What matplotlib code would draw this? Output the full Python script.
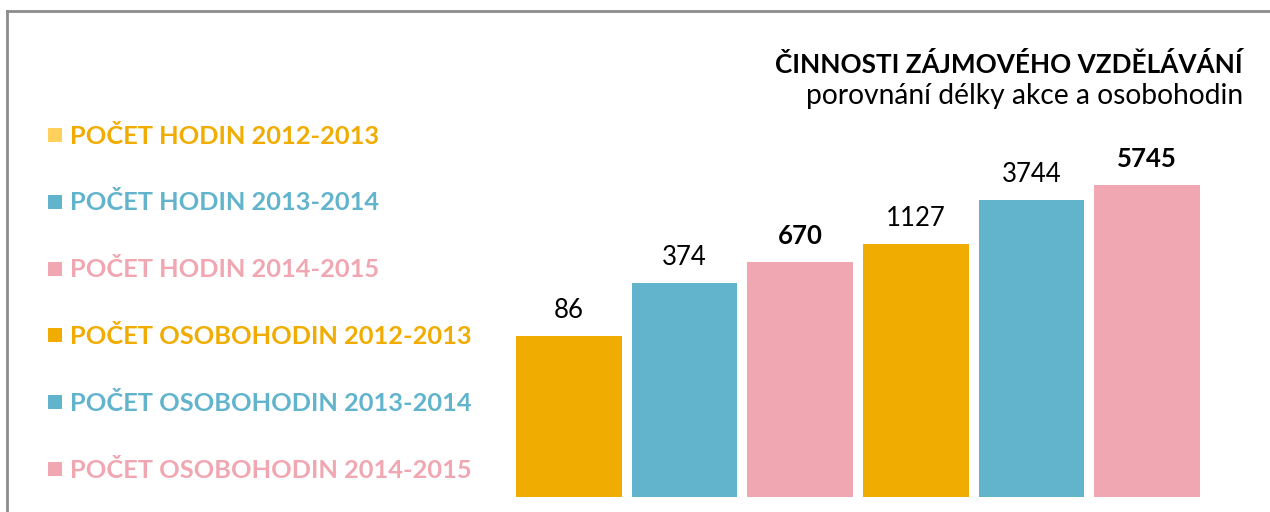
import matplotlib
matplotlib.use("Agg")
import matplotlib.pyplot as plt
from matplotlib.patches import Rectangle
from matplotlib.lines import Line2D

categories = ["POČET HODIN 2012-2013", "POČET HODIN 2013-2014", "POČET HODIN 2014-2015",
              "POČET OSOBOHODIN 2012-2013", "POČET OSOBOHODIN 2013-2014", "POČET OSOBOHODIN 2014-2015"]
values = [86, 374, 670, 1127, 3744, 5745]
bold_labels = [False, False, True, False, False, True]
bar_colors = ["#F0AC00", "#62B4CD", "#F0A7B1", "#F0AC00", "#62B4CD", "#F0A7B1"]
legend_square_colors = ["#FFD15C", "#62B4CD", "#F0A7B1", "#F0AC00", "#62B4CD", "#F0A7B1"]
title = "ČINNOSTI ZÁJMOVÉHO VZDĚLÁVÁNÍ"
subtitle = "porovnání délky akce a osobohodin"

plt.rcParams['font.family'] = ['Lato', 'DejaVu Sans']

W, H = 1270, 512
fig = plt.figure(figsize=(W / 100, H / 100), dpi=100)
fig.patch.set_facecolor("white")

# axes placement in pixels
ax_left, ax_right, ax_top, ax_bottom = 511, 1205, 165, 497
ax = fig.add_axes([ax_left / W, 1 - ax_bottom / H, (ax_right - ax_left) / W, (ax_bottom - ax_top) / H])
x = list(range(len(values)))
bars = ax.bar(x, values, width=0.915, color=bar_colors, bottom=0)
ax.set_yscale("log")
ax.set_ylim(1, 10000)
ax.set_xlim(-0.5, len(values) - 0.5)
ax.axis("off")

for xi, v, b in zip(x, values, bold_labels):
    ax.annotate(str(v), (xi, v), xytext=(0, 13), textcoords="offset points",
                ha="center", va="baseline", fontsize=18.5,
                fontweight="bold" if b else "normal", color="black")

# legend
for i, (lab, tc, sc) in enumerate(zip(categories, bar_colors, legend_square_colors)):
    yc = 135 + 66.8 * i
    fig.patches.append(Rectangle((48 / W, 1 - (yc + 7) / H), 14 / W, 14 / H,
                                 transform=fig.transFigure, facecolor=sc, edgecolor="none"))
    fig.text(70 / W, 1 - (yc + 8.5) / H, lab, color=tc, fontsize=18.3, fontweight="bold",
             ha="left", va="baseline")

# title
fig.text(1243 / W, 1 - 73 / H, title, ha="right", va="baseline", fontsize=18.8, fontweight="bold")
fig.text(1243 / W, 1 - 104 / H, subtitle, ha="right", va="baseline", fontsize=20.3)

# frame
fig.add_artist(Line2D([7 / W, 1], [1 - 11 / H, 1 - 11 / H], transform=fig.transFigure, color="#8C8C8C", lw=2))
fig.add_artist(Line2D([7 / W, 7 / W], [0, 1 - 11 / H], transform=fig.transFigure, color="#8C8C8C", lw=2))

fig.savefig("out.png", dpi=100, facecolor="white")
